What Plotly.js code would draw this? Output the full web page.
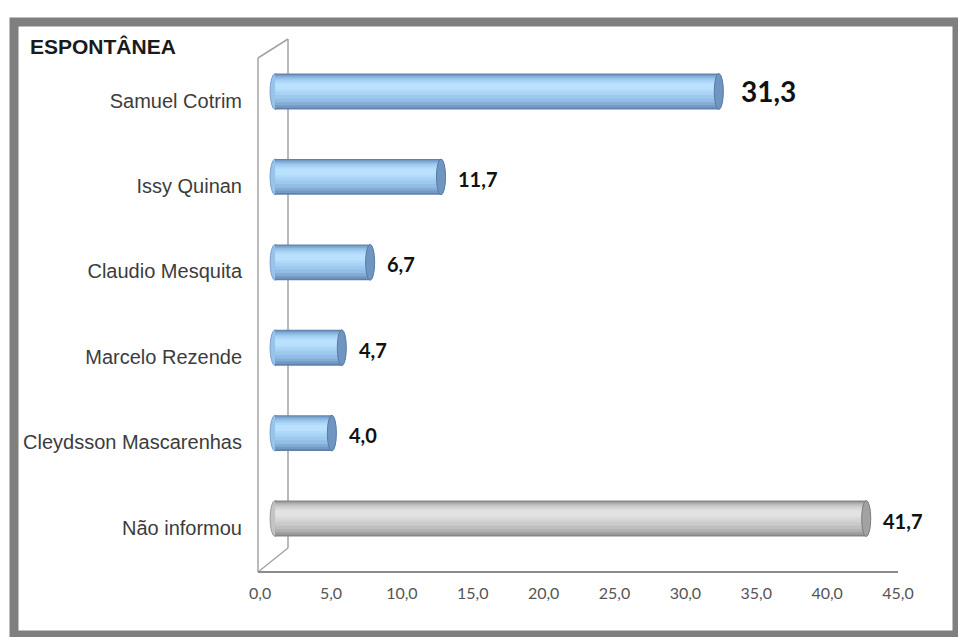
<!DOCTYPE html>
<html>
<head>
<meta charset="utf-8">
<script src="https://cdn.plot.ly/plotly-3.0.1.min.js"></script>
<style>html,body{margin:0;padding:0;background:#fff;}#chart{width:958px;height:637px;}</style>
</head>
<body>
<div id="chart"></div>
<script>
// ---- data ----
var categories = ["Samuel Cotrim", "Issy Quinan", "Claudio Mesquita", "Marcelo Rezende", "Cleydsson Mascarenhas", "Não informou"];
var values = [31.3, 11.7, 6.7, 4.7, 4.0, 41.7];
var tickValues = [0, 5, 10, 15, 20, 25, 30, 35, 40, 45];
var tickLabels = ["0,0", "5,0", "10,0", "15,0", "20,0", "25,0", "30,0", "35,0", "40,0", "45,0"];
var chartTitle = "ESPONTÂNEA";
var otherLabel = "Não informou";

// ---- layout geometry ----
var W = 958, H = 637;
var M = {l: 261, r: 45, t: 39, b: 65};
var PW = W - M.l - M.r, PH = H - M.t - M.b;
function px(x) { return (x - M.l) / PW; }
function py(y) { return 1 - (y - M.t) / PH; }

var BW = 0.42;
var blueLayers = [[0,1,'#5f82aa'],[0.03,0.95,'#7399c4'],[0.06,0.88,'#84acd6'],[0.1,0.8,'#92bde4'],
                  [0.14,0.7,'#9ec9ee'],[0.18,0.6,'#a8d2f5'],[0.22,0.52,'#b0d9f9'],[0.27,0.45,'#b9e0fc']];
var grayLayers = [[0,1,'#858585'],[0.03,0.95,'#9d9d9d'],[0.06,0.88,'#b0b0b0'],[0.1,0.8,'#bebebe'],
                  [0.14,0.7,'#cacaca'],[0.18,0.6,'#d3d3d3'],[0.22,0.52,'#dadada'],[0.27,0.45,'#e2e2e2']];

var isOther = categories.map(function(c){ return c === otherLabel; });
var traces = [];
for (var k = 0; k < blueLayers.length; k++) {
  var b = blueLayers[k], g = grayLayers[k];
  traces.push({
    type: 'bar', orientation: 'h',
    x: values, y: categories,
    width: (b[1] - b[0]) * BW,
    offset: -BW / 2 + b[0] * BW,
    marker: {color: isOther.map(function(o){ return o ? g[2] : b[2]; }), line: {width: 0}},
    hoverinfo: 'skip', showlegend: false
  });
}

var shapes = [];
// frame
shapes.push({type:'rect', xref:'paper', yref:'paper', x0:px(14), x1:px(957), y0:py(22), y1:py(635),
  line:{color:'#7f7f7f', width:9}, fillcolor:'rgba(0,0,0,0)', layer:'below'});
// 3D wall lines
var wallColor = '#a3a3a3';
function seg(x0,y0,x1,y1,c,w){ shapes.push({type:'line', xref:'paper', yref:'paper', x0:px(x0), y0:py(y0), x1:px(x1), y1:py(y1), line:{color:c||wallColor, width:w||1.5}, layer:'below'}); }
seg(258, 58, 258, 572);
seg(258, 58, 288, 39);
seg(288, 39, 288, 548);
seg(258, 572, 288, 548);
seg(258, 572, 898, 572, '#8c8c8c', 2);

// bar caps
var leaderIdx = -1, leaderVal = -Infinity;
categories.forEach(function(c, i){
  if (!isOther[i] && values[i] > leaderVal) { leaderVal = values[i]; leaderIdx = i; }
  var o = isOther[i];
  shapes.push({type:'circle', xref:'x', yref:'y', x0:-0.36, x1:0.36, y0:i - BW/2, y1:i + BW/2,
    fillcolor: o ? '#c4c4c4' : '#98c3ea', line:{color: o ? '#9a9a9a' : '#7aa1cb', width:1}, layer:'below'});
  shapes.push({type:'circle', xref:'x', yref:'y', x0:values[i]-0.32, x1:values[i]+0.32, y0:i - BW/2, y1:i + BW/2,
    fillcolor: o ? '#a2a2a2' : '#6f95c1', line:{color: o ? '#7c7c7c' : '#577ba4', width:1}, layer:'above'});
});

// value labels
var annotations = categories.map(function(c, i){
  var big = (i === leaderIdx);
  return {x: values[i], y: c, xref:'x', yref:'y', xanchor:'left', yanchor:'middle',
    xshift: big ? 20 : 15, yshift: big ? 1 : -2, showarrow:false,
    text: values[i].toFixed(1).replace('.', ','),
    font: {family:'Lato, "Open Sans", sans-serif', size: big ? 28 : 20, color:'#111111', weight:'bold'}};
});

var layout = {
  width: W, height: H,
  margin: M,
  paper_bgcolor: '#ffffff', plot_bgcolor: 'rgba(0,0,0,0)',
  barmode: 'overlay',
  showlegend: false,
  separators: ',.',
  title: {text: '<b>' + chartTitle + '</b>', xref:'container', yref:'container', x: 30 / W, xanchor:'left',
    y: 1 - 47 / H, yanchor:'middle', font:{family:'"Liberation Sans", Arial, sans-serif', size:21, color:'#1a1a1a'}},
  xaxis: {range:[-1, 45], showgrid:false, zeroline:false, showline:false, ticks:'',
    tickvals: tickValues, ticktext: tickLabels, ticklabelshift: -15, ticklabelstandoff: 10,
    tickfont:{family:'Lato, sans-serif', size:16, color:'#555555'}, fixedrange:true},
  yaxis: {type:'category', categoryarray: categories, range:[5.626, -0.615], showgrid:false, zeroline:false,
    showline:false, ticks:'', ticklabelstandoff: 18, ticklabelshift: -9,
    tickfont:{family:'"Liberation Sans", Arial, sans-serif', size:20, color:'#3c3c3c'}, fixedrange:true},
  shapes: shapes,
  annotations: annotations
};

Plotly.newPlot('chart', traces, layout, {displayModeBar:false, staticPlot:true});
</script>
</body>
</html>
